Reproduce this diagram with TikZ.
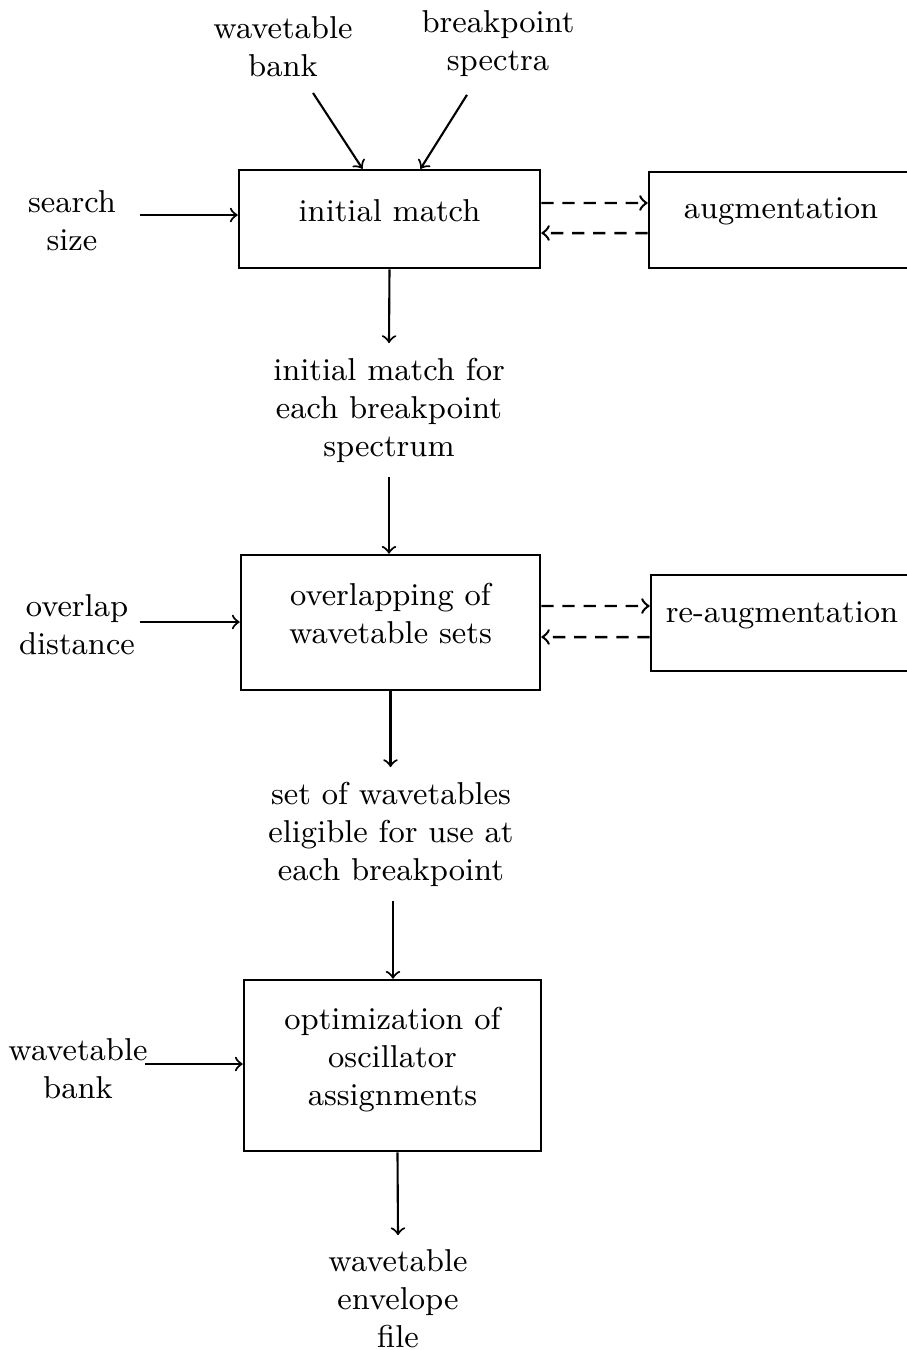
\documentclass[tikz,border=0pt]{standalone}
\usepackage{tikz}
\usetikzlibrary{calc}

\begin{document}
\begin{tikzpicture}[x=0.01cm,y=-0.01cm,>=to,
    font=\fontsize{9}{10.8}\selectfont,
    block/.style={draw,line width=0.7pt,align=center,inner sep=0pt},
    txt/.style={align=center,inner sep=4pt},
    flow/.style={->,line width=0.6pt},
    feedback/.style={->,line width=0.7pt,dash pattern=on 3.5pt off 2.5pt}]
    \useasboundingbox (0,0) rectangle (907,1350);
    % blocks
    \node (match) [block, minimum width=3.01cm, minimum height=0.98cm] at (389.5,219) {initial match\rule[-5pt]{0pt}{5pt}};
    \node (aug) [block, minimum width=2.64cm, minimum height=0.96cm] at (781,220) {augmentation\rule[-6.5pt]{0pt}{6.5pt}};
    \node (overlap) [block, minimum width=2.99cm, minimum height=1.35cm] at (390.5,622.5) {overlapping of\\wavetable sets\rule[-5pt]{0pt}{5pt}};
    \node (reaug) [block, minimum width=2.62cm, minimum height=0.96cm] at (782,623) {re-augmentation\rule[-6pt]{0pt}{6pt}};
    \node (optim) [block, minimum width=2.97cm, minimum height=1.71cm] at (392.5,1065.5) {optimization of\\oscillator\\assignments\rule[-5pt]{0pt}{5pt}};
    % inputs and outputs
    \node (bankA) [txt] at (283,47) {wavetable\\bank};
    \node (spectra) [txt] at (498,44) {breakpoint\\spectra};
    \node (search) [txt] at (72,221) {search\\size};
    \node (matchout) [txt] at (389,410) {initial match for\\each breakpoint\\spectrum};
    \node (dist) [txt] at (77,625) {overlap\\distance};
    \node (setout) [txt] at (391,834) {set of wavetables\\eligible for use at\\each breakpoint};
    \node (bankB) [txt] at (78,1069) {wavetable\\bank};
    \node (envelope) [txt] at (398,1299) {wavetable\\envelope\\file};
    % connectors
    \draw [flow] ($(bankA.south)+(30,1)$) -- ($(match.north)+(-27,0)$);
    \draw [flow] ($(spectra.south)+(-31,3)$) -- ($(match.north)+(31,0)$);
    \draw [flow] ($(search.east)+(9,-6)$) -- ($(search.east -| match.west)+(0,-6)$);
    \draw [feedback] ([yshift=0.16cm]match.east) -- ([yshift=0.17cm]aug.west);
    \draw [feedback] ([yshift=-0.13cm]aug.west) -- ([yshift=-0.14cm]match.east);
    \draw [flow] (match.south) -- (matchout.north);
    \draw [flow] (matchout.south) -- (matchout.south |- overlap.north);
    \draw [flow] ($(dist.east)+(-10,-3)$) -- ($(dist.east -| overlap.west)+(0,-3)$);
    \draw [feedback] ([yshift=0.165cm]overlap.east) -- ([yshift=0.17cm]reaug.west);
    \draw [feedback] ([yshift=-0.14cm]reaug.west) -- ([yshift=-0.145cm]overlap.east);
    \draw [flow] (overlap.south) -- (overlap.south |- setout.north);
    \draw [flow] ($(setout.south)+(2,0)$) -- ($(setout.south |- optim.north)+(2,0)$);
    \draw [flow] ($(bankB.east)+(-17,-5)$) -- ($(bankB.east -| optim.west)+(0,-5)$);
    \draw [flow] ($(optim.south)+(5,0)$) -- ($(envelope.north)+(0,0)$);
\end{tikzpicture}
\end{document}
